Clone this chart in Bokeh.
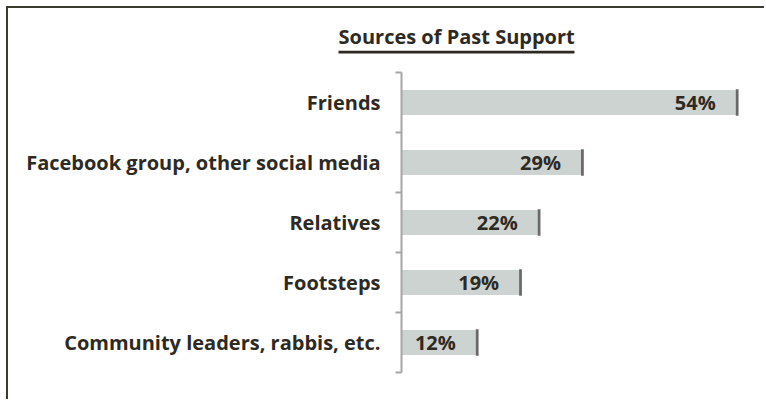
from bokeh.plotting import figure
from bokeh.models import Range1d, LinearAxis, FixedTicker, ColumnDataSource, Title
from bokeh.core.properties import value
from bokeh.embed import file_html
from bokeh.resources import INLINE

title_text = "Sources of Past Support"
categories = ["Friends", "Facebook group, other social media", "Relatives",
              "Footsteps", "Community leaders, rabbis, etc."]
values = [54, 29, 22, 19, 12]
value_labels = ["54%", "29%", "22%", "19%", "12%"]

n = len(categories)
ypos = [n - i - 0.5 for i in range(n)]
boundaries = [float(i) for i in range(n + 1)]

FONT = "Open Sans"
TXT = "#2d2a24"
BORDER = "#3b3a2f"

W, H = 758, 393
left_b, right_b, top_b, bottom_b = 393, 16, 64, 29
frame_w = W - left_b - right_b
px_per_pct = 6.19

p = figure(width=W, height=H, output_backend="svg", toolbar_location=None,
           x_range=Range1d(0, frame_w / px_per_pct), y_range=Range1d(0, n),
           x_axis_location=None, y_axis_location=None,
           min_border_left=left_b, min_border_right=right_b,
           min_border_top=top_b, min_border_bottom=bottom_b)
p.outline_line_color = None
p.xgrid.visible = False
p.ygrid.visible = False
p.background_fill_color = "white"
p.border_fill_color = "white"
p.styles = {"border-top": f"2px solid {BORDER}", "border-left": f"2px solid {BORDER}",
            "margin-left": "6px", "margin-top": "6px"}

src = ColumnDataSource(dict(y=ypos, v=values, lab=value_labels,
                            vs=[v + 0.45 for v in values]))

p.hbar(y="y", left=0, right="v", height=0.42, source=src,
       fill_color="#cdd3d0", line_color=None)
p.hbar(y="y", left="v", right="vs", height=0.44, source=src,
       fill_color="#4f4f4f", fill_alpha=0.85, line_color=None)

p.text(x="v", y="y", text="lab", source=src, x_offset=-20,
       text_align="right", text_baseline="middle",
       text_font=value(FONT), text_font_style="bold",
       text_font_size="20px", text_color=TXT)

axis = LinearAxis(ticker=FixedTicker(ticks=ypos, minor_ticks=boundaries))
axis.major_label_overrides = {y: c for y, c in zip(ypos, categories)}
axis.axis_line_color = "#a6a6a6"
axis.axis_line_width = 2
axis.major_tick_line_color = None
axis.major_tick_out = 0
axis.major_tick_in = 0
axis.minor_tick_line_color = "#a6a6a6"
axis.minor_tick_line_width = 2
axis.minor_tick_out = 6
axis.minor_tick_in = 0
axis.major_label_standoff = 15
axis.major_label_text_font = FONT
axis.major_label_text_font_style = "bold"
axis.major_label_text_font_size = "20px"
axis.major_label_text_color = TXT
p.add_layout(axis, "left")

# title block (stacked outward from the frame): spacer, underline strip, title text
title_offset = -63
underline_w = 235
underline_px = 2
strip = "\u2003" * round(underline_w / underline_px)
p.add_layout(Title(text=strip, align="left", offset=title_offset, standoff=14,
                   text_font=FONT, text_font_size=f"{underline_px}px",
                   text_color="white"), "above")
p.add_layout(Title(text=strip, align="left", offset=title_offset, standoff=0,
                   text_font=FONT, text_font_size=f"{underline_px}px",
                   text_color=TXT, background_fill_color=TXT,
                   background_fill_alpha=1), "above")
p.add_layout(Title(text=title_text, align="left", offset=title_offset, standoff=-2,
                   text_font=FONT, text_font_style="bold", text_font_size="20px",
                   text_color=TXT), "above")

open("out.html", "w").write(file_html(p, INLINE))
